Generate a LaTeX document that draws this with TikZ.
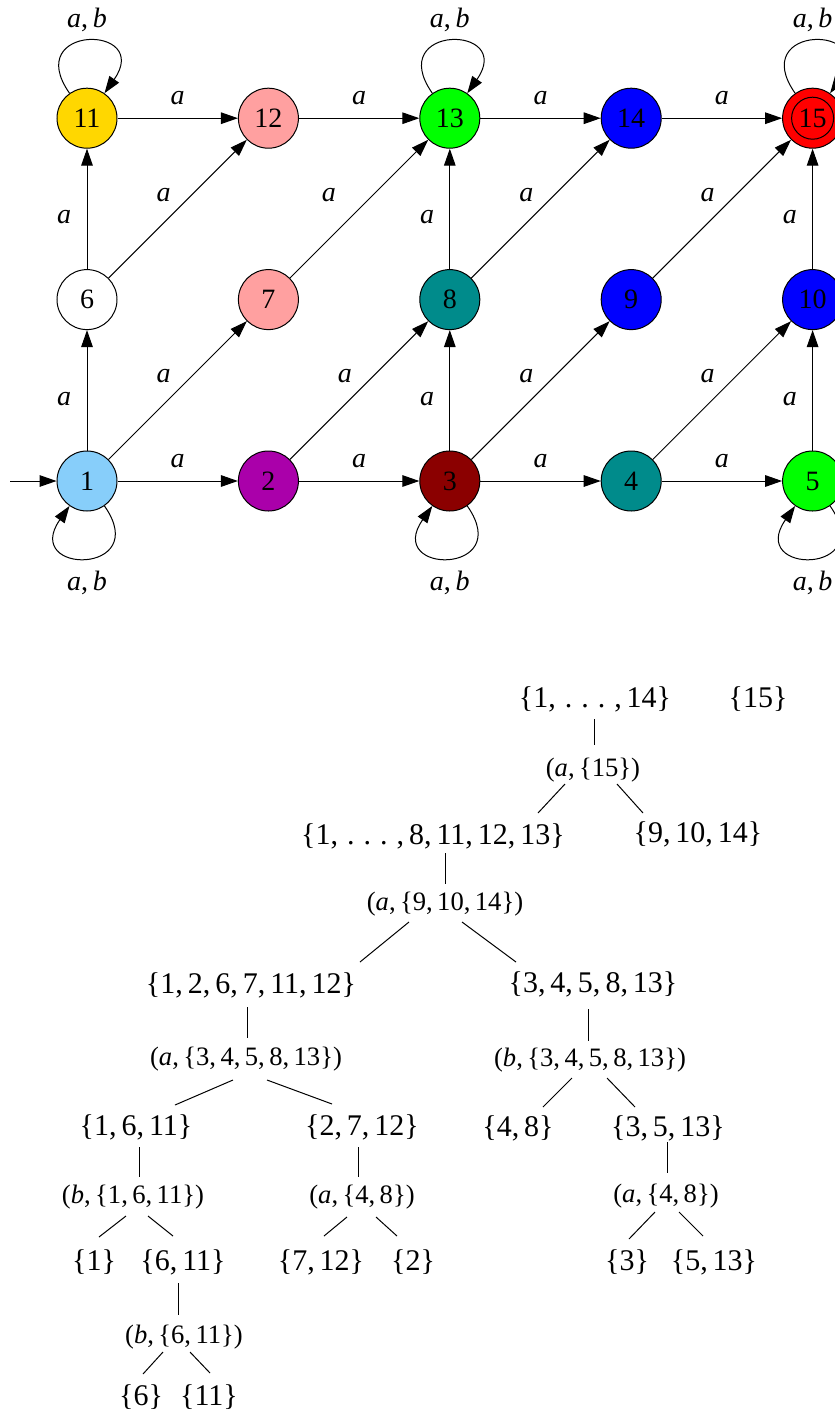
\documentclass[tikz,border=0pt]{standalone}
\usepackage{fontspec}
\setmainfont{Liberation Serif}
\usetikzlibrary{arrows.meta,positioning,calc}
\definecolor{stGold}{RGB}{255,215,0}
\definecolor{stPink}{RGB}{255,160,160}
\definecolor{stGreen}{RGB}{0,255,0}
\definecolor{stBlue}{RGB}{0,0,255}
\definecolor{stRed}{RGB}{255,0,0}
\definecolor{stTeal}{RGB}{0,139,139}
\definecolor{stSky}{RGB}{135,206,250}
\definecolor{stPurple}{RGB}{170,0,170}
\definecolor{stMaroon}{RGB}{139,0,0}
\newcommand{\spdots}{.\hspace{0.3em}.\hspace{0.3em}.}

\begin{document}
\begin{tikzpicture}[
    x=0.5pt, y=-0.5pt,
    node distance=90.7pt, on grid,
    state/.style={circle, draw, line width=0.5pt, minimum size=30pt, inner sep=0pt, font=\fontsize{14}{16}\selectfont},
    trans/.style={-{Triangle[length=8.5pt, width=5.8pt]}, line width=0.5pt},
    lbl/.style={font=\fontsize{14}{16}\selectfont},
    part/.style={font=\fontsize{15}{17}\selectfont, inner sep=1pt},
    split/.style={font=\fontsize{13.3}{15}\selectfont, inner sep=1pt},
    branch/.style={line width=0.5pt}
  ]
  \useasboundingbox (0,0) rectangle (835,1414);

  % automaton
  \node[state, fill=stSky] (n1) at (87,481) {1};
  \node[state, fill=stPurple, right=of n1] (n2) {2};
  \node[state, fill=stMaroon, right=of n2] (n3) {3};
  \node[state, fill=stTeal, right=of n3] (n4) {4};
  \node[state, fill=stGreen, right=of n4] (n5) {5};
  \node[state, fill=white, above=of n1] (n6) {6};
  \node[state, fill=stPink, above=of n2] (n7) {7};
  \node[state, fill=stTeal, above=of n3] (n8) {8};
  \node[state, fill=stBlue, above=of n4] (n9) {9};
  \node[state, fill=stBlue, above=of n5] (n10) {10};
  \node[state, fill=stGold, above=of n6] (n11) {11};
  \node[state, fill=stPink, above=of n7] (n12) {12};
  \node[state, fill=stGreen, above=of n8] (n13) {13};
  \node[state, fill=stBlue, above=of n9] (n14) {14};
  \node[state, fill=stRed, above=of n10] (n15) {15};
  \draw[line width=0.5pt] (n15) circle[radius=10.5pt];
  \coordinate (start) at (10,481);

  \draw[trans] (start) -- (n1);
  \draw[trans] (n1) -- node[lbl, above=3pt] {\textit{a}} (n2);
  \draw[trans] (n2) -- node[lbl, above=3pt] {\textit{a}} (n3);
  \draw[trans] (n3) -- node[lbl, above=3pt] {\textit{a}} (n4);
  \draw[trans] (n4) -- node[lbl, above=3pt] {\textit{a}} (n5);
  \draw[trans] (n11) -- node[lbl, above=3pt] {\textit{a}} (n12);
  \draw[trans] (n12) -- node[lbl, above=3pt] {\textit{a}} (n13);
  \draw[trans] (n13) -- node[lbl, above=3pt] {\textit{a}} (n14);
  \draw[trans] (n14) -- node[lbl, above=3pt] {\textit{a}} (n15);
  \draw[trans] (n1) -- node[lbl, left=4.3pt, pos=0.43] {\textit{a}} (n6);
  \draw[trans] (n6) -- node[lbl, left=4.3pt, pos=0.43] {\textit{a}} (n11);
  \draw[trans] (n3) -- node[lbl, left=4.3pt, pos=0.43] {\textit{a}} (n8);
  \draw[trans] (n8) -- node[lbl, left=4.3pt, pos=0.43] {\textit{a}} (n13);
  \draw[trans] (n5) -- node[lbl, left=4.3pt, pos=0.43] {\textit{a}} (n10);
  \draw[trans] (n10) -- node[lbl, left=4.3pt, pos=0.43] {\textit{a}} (n15);
  \draw[trans] (n1) -- node[lbl, above left] {\textit{a}} (n7);
  \draw[trans] (n6) -- node[lbl, above left] {\textit{a}} (n12);
  \draw[trans] (n2) -- node[lbl, above left] {\textit{a}} (n8);
  \draw[trans] (n7) -- node[lbl, above left, xshift=-8pt] {\textit{a}} (n13);
  \draw[trans] (n3) -- node[lbl, above left] {\textit{a}} (n9);
  \draw[trans] (n8) -- node[lbl, above left] {\textit{a}} (n14);
  \draw[trans] (n4) -- node[lbl, above left] {\textit{a}} (n10);
  \draw[trans] (n9) -- node[lbl, above left] {\textit{a}} (n15);

  % self loops
  \draw[trans] (n11) to[out=125, in=55, looseness=6.2] node[lbl, above=1pt] {\textit{a},\,\textit{b}} (n11);
  \draw[trans] (n13) to[out=125, in=55, looseness=6.2] node[lbl, above=1pt] {\textit{a},\,\textit{b}} (n13);
  \draw[trans] (n15) to[out=125, in=55, looseness=6.2] node[lbl, above=1pt] {\textit{a},\,\textit{b}} (n15);
  \draw[trans] (n1) to[out=-55, in=-125, looseness=6.2] node[lbl, below=3pt] {\textit{a},\,\textit{b}} (n1);
  \draw[trans] (n3) to[out=-55, in=-125, looseness=6.2] node[lbl, below=3pt] {\textit{a},\,\textit{b}} (n3);
  \draw[trans] (n5) to[out=-55, in=-125, looseness=6.2] node[lbl, below=3pt] {\textit{a},\,\textit{b}} (n5);

  % refinement tree
  \node[part] (t1) at (595,699) {\{1,\hspace{0.3em}\spdots\hspace{0.3em},\,14\}};
  \node[part] (t15) at (758,699) {\{15\}};
  \node[split] (s1) at (593,770) {(\textit{a},\,\{15\})};
  \node[part] (t2) at (433,836) {\{1,\hspace{0.3em}\spdots\hspace{0.3em},\,8,\,11,\,12,\,13\}};
  \node[part] (t3) at (698,834) {\{9,\,10,\,14\}};
  \node[split] (s2) at (445,904) {(\textit{a},\,\{9,\,10,\,14\})};
  \node[part] (t4) at (251,985) {\{1,\,2,\,6,\,7,\,11,\,12\}};
  \node[part] (t5) at (593,984) {\{3,\,4,\,5,\,8,\,13\}};
  \node[split] (s3) at (246,1059) {(\textit{a},\,\{3,\,4,\,5,\,8,\,13\})};
  \node[split] (s4) at (590,1060) {(\textit{b},\,\{3,\,4,\,5,\,8,\,13\})};
  \node[part] (t6) at (136,1127) {\{1,\,6,\,11\}};
  \node[part] (t7) at (362,1127) {\{2,\,7,\,12\}};
  \node[part] (t8) at (518,1128) {\{4,\,8\}};
  \node[part] (t9) at (668,1128) {\{3,\,5,\,13\}};
  \node[split] (s5) at (133,1197) {(\textit{b},\,\{1,\,6,\,11\})};
  \node[split] (s6) at (362,1197) {(\textit{a},\,\{4,\,8\})};
  \node[split] (s7) at (666,1196) {(\textit{a},\,\{4,\,8\})};
  \node[part] (t10) at (94,1262) {\{1\}};
  \node[part] (t11) at (183,1262) {\{6,\,11\}};
  \node[part] (t12) at (321,1262) {\{7,\,12\}};
  \node[part] (t13) at (413,1262) {\{2\}};
  \node[part] (t14) at (627,1262) {\{3\}};
  \node[part] (t16) at (714,1262) {\{5,\,13\}};
  \node[split] (s8) at (184,1337) {(\textit{b},\,\{6,\,11\})};
  \node[part] (t17) at (141,1397) {\{6\}};
  \node[part] (t18) at (209,1397) {\{11\}};

  \draw[branch] ($(t1)+(-1,20)$) -- ($(s1)+(1,-25)$);
  \draw[branch] ($(s1)+(-28,14)$) -- ($(t2)+(105,-23)$);
  \draw[branch] ($(s1)+(24,14)$) -- ($(t3)+(-55,-21)$);
  \draw[branch] ($(t2)+(12,17)$) -- ($(s2)+(0,-20)$);
  \draw[branch] ($(s2)+(-36,18)$) -- ($(t4)+(109,-23)$);
  \draw[branch] ($(s2)+(17,18)$) -- ($(t5)+(-77,-22)$);
  \draw[branch] ($(t4)+(-4,22)$) -- ($(s3)+(1,-21)$);
  \draw[branch] ($(t5)+(-5,25)$) -- ($(s4)+(-2,-19)$);
  \draw[branch] ($(s3)+(-13,21)$) -- ($(t6)+(39,-22)$);
  \draw[branch] ($(s3)+(21,21)$) -- ($(t7)+(-30,-23)$);
  \draw[branch] ($(s4)+(-18,18)$) -- ($(t8)+(25,-21)$);
  \draw[branch] ($(s4)+(17,18)$) -- ($(t9)+(-33,-21)$);
  \draw[branch] ($(t6)+(3,20)$) -- ($(s5)+(6,-20)$);
  \draw[branch] ($(t7)+(-4,20)$) -- ($(s6)+(-4,-20)$);
  \draw[branch] ($(t9)+(-1,14)$) -- ($(s7)+(1,-23)$);
  \draw[branch] ($(s5)+(-7,19)$) -- ($(t10)+(5,-25)$);
  \draw[branch] ($(s5)+(15,19)$) -- ($(t11)+(-10,-26)$);
  \draw[branch] ($(s6)+(-15,20)$) -- ($(t12)+(3,-26)$);
  \draw[branch] ($(s6)+(14,20)$) -- ($(t13)+(-16,-26)$);
  \draw[branch] ($(s7)+(-11,16)$) -- ($(t14)+(2,-23)$);
  \draw[branch] ($(s7)+(13,16)$) -- ($(t16)+(-11,-26)$);
  \draw[branch] ($(t11)+(-5,21)$) -- ($(s8)+(-6,-22)$);
  \draw[branch] ($(s8)+(-21,15)$) -- ($(t17)+(2,-23)$);
  \draw[branch] ($(s8)+(6,15)$) -- ($(t18)+(1,-24)$);
\end{tikzpicture}
\end{document}
